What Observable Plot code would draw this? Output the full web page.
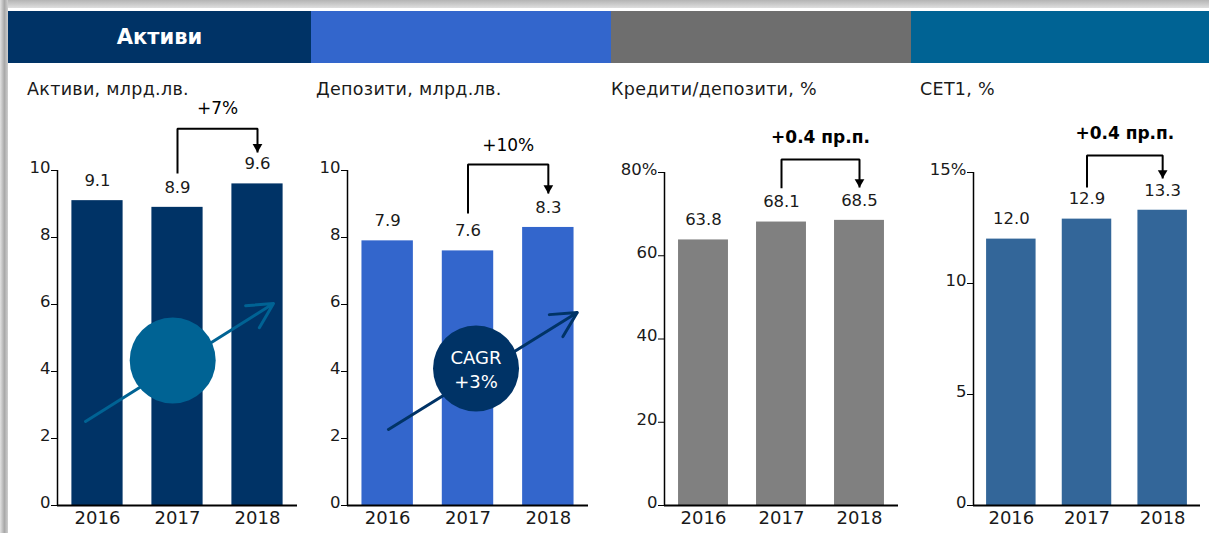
<!DOCTYPE html>
<html><head><meta charset="utf-8">
<script src="https://cdn.jsdelivr.net/npm/d3@7"></script>
<script src="https://cdn.jsdelivr.net/npm/@observablehq/plot@0.6"></script>
<style>
html,body{margin:0;padding:0;background:#fff}
body{width:1209px;height:533px;overflow:hidden;position:relative;font-family:"DejaVu Sans",sans-serif;color:#1a1a1a}
.abs{position:absolute}
#topstrip{left:0;top:0;width:1209px;height:8px;background:linear-gradient(to bottom,#b4b4b4,#dedede)}
#leftstrip{left:0;top:0;width:8px;height:533px;background:linear-gradient(to right,#e2e2e2,#a8a8a8 55%,#cfcfcf)}
.hdr{top:11px;height:52px;display:flex;align-items:center;justify-content:center;color:#fff;font-weight:bold;font-size:21px}
.sub{top:78px;font-size:17.5px;line-height:22px;letter-spacing:0.3px;white-space:nowrap}
.panel{top:95px}
</style></head>
<body>
<div id="topstrip" class="abs"></div>
<div id="leftstrip" class="abs"></div>
<div id="root"></div>
<script>
// ---- data ----
const years = [2016, 2017, 2018];
const assets = [9.1, 8.9, 9.6];
const deposits = [7.9, 7.6, 8.3];
const loansToDeposits = [63.8, 68.1, 68.5];
const cet1 = [12.0, 12.9, 13.3];

const headerLabels = ["Активи", "", "", ""];
const subtitles = ["Активи, млрд.лв.", "Депозити, млрд.лв.", "Кредити/депозити, %", "СЕТ1, %"];
const changeLabels = ["+7%", "+10%", "+0.4 пр.п.", "+0.4 пр.п."];
const cagrLabel = "CAGR\n+3%";

const assetTicks = [0, 2, 4, 6, 8, 10];
const assetTickLabels = ["0", "2", "4", "6", "8", "10"];
const depositTicks = [0, 2, 4, 6, 8, 10];
const depositTickLabels = ["0", "2", "4", "6", "8", "10"];
const ltdTicks = [0, 20, 40, 60, 80];
const ltdTickLabels = ["0", "20", "40", "60", "80%"];
const cet1Ticks = [0, 5, 10, 15];
const cet1TickLabels = ["0", "5", "10", "15%"];

// ---- layout / style config ----
const headerCfg = [
  {left: 8, width: 303, color: "#003366"},
  {left: 311, width: 300, color: "#3366CC"},
  {left: 611, width: 300, color: "#6E6E6E"},
  {left: 911, width: 298, color: "#006394"}
];
const subLeft = [27, 316, 611, 920];

const panels = [
  {values: assets, ticks: assetTicks, tickLabels: assetTickLabels, yMax: 10, color: "#003366",
   left: 7, plotW: 240, marginTop: 75, half: 0.32,
   bracket: {from: 9.91, top: 11.25, tip: 10.54, label: 11.85, bold: false},
   growth: {x1: 2015.85, y1: 2.51, x2: 2018.2, y2: 6.03, cx: 2016.94, cy: 4.33, color: "#006394", text: null}},
  {values: deposits, ticks: depositTicks, tickLabels: depositTickLabels, yMax: 10, color: "#3366CC",
   left: 297, plotW: 241, marginTop: 75, half: 0.32,
   bracket: {from: 8.72, top: 10.18, tip: 9.31, label: 10.75, bold: false},
   growth: {x1: 2016.01, y1: 2.27, x2: 2018.36, y2: 5.76, cx: 2017.1, cy: 4.09, color: "#003366", text: cagrLabel}},
  {values: loansToDeposits, ticks: ltdTicks, tickLabels: ltdTickLabels, yMax: 80, color: "#808080",
   left: 614, plotW: 234, marginTop: 77, half: 0.32,
   bracket: {from: 76.2, top: 83.1, tip: 76.4, label: 88.4, bold: true},
   growth: null},
  {values: cet1, ticks: cet1Ticks, tickLabels: cet1TickLabels, yMax: 15, color: "#336699",
   left: 923, plotW: 227, marginTop: 77, half: 0.327,
   bracket: {from: 14.32, top: 15.77, tip: 14.73, label: 16.76, bold: true},
   growth: null}
];

const root = document.getElementById("root");

headerCfg.forEach((h, i) => {
  const d = document.createElement("div");
  d.className = "abs hdr";
  d.style.left = h.left + "px";
  d.style.width = h.width + "px";
  d.style.background = h.color;
  d.textContent = headerLabels[i];
  root.appendChild(d);
});
subtitles.forEach((s, i) => {
  const d = document.createElement("div");
  d.className = "abs sub";
  d.style.left = subLeft[i] + "px";
  d.textContent = s;
  root.appendChild(d);
});

panels.forEach((p, i) => {
  const data = years.map((y, j) => ({year: y, value: p.values[j]}));
  const b = p.bracket;
  const marginLeft = 50, marginRight = 8;
  const marks = [
    Plot.rectY(data, {x1: d => d.year - p.half, x2: d => d.year + p.half, y: "value", fill: p.color}),
    Plot.text(data, {x: "year", y: "value", text: d => d.value.toFixed(1), dy: -20, fontSize: 16.5, fill: "#1a1a1a"}),
    Plot.ruleX([2015.5], {stroke: "#000", strokeWidth: 1.5}),
    Plot.ruleY([0], {stroke: "#000", strokeWidth: 2}),
    Plot.axisY({ticks: p.ticks, tickFormat: () => "", tickSize: 6, label: null, stroke: "#000"}),
    Plot.axisY({ticks: p.ticks, tickFormat: d => p.tickLabels[p.ticks.indexOf(d)], tickSize: 0, tickPadding: 7, dy: -3, label: null, fontSize: 16.5, color: "#1a1a1a"}),
    Plot.axisX({ticks: years, tickFormat: d => String(d), tickSize: 0, tickPadding: 6, label: null, fontSize: 18, color: "#1a1a1a"}),
    Plot.line([{x: 2017, y: b.from}, {x: 2017, y: b.top}, {x: 2018, y: b.top}, {x: 2018, y: b.tip}],
      {x: "x", y: "y", stroke: "#000", strokeWidth: 2, strokeLinejoin: "miter", strokeLinecap: "butt"}),
    Plot.dot([{x: 2018, y: b.tip}], {x: "x", y: "y", symbol: "triangle", rotate: 180, r: 3.6, dy: -5.5, fill: "#000", stroke: null}),
    Plot.text([{x: 2017.5, y: b.label, t: changeLabels[i]}], {x: "x", y: "y", text: "t", fontSize: 17, fontWeight: b.bold ? "bold" : "normal", fill: "#000"})
  ];
  if (p.growth) {
    const g = p.growth;
    marks.push(Plot.arrow([g], {x1: "x1", y1: "y1", x2: "x2", y2: "y2", stroke: g.color, strokeWidth: 3, headLength: 14, headAngle: 55}));
    marks.push(Plot.dot([g], {x: "cx", y: "cy", r: 43, fill: g.color, stroke: null}));
    if (g.text) marks.push(Plot.text([g], {x: "cx", y: "cy", text: () => g.text, fill: "#fff", fontSize: 18, lineHeight: 1.3}));
  }
  const chart = Plot.plot({
    width: marginLeft + p.plotW + marginRight,
    height: 438,
    marginLeft, marginRight, marginTop: p.marginTop, marginBottom: 28,
    x: {type: "linear", domain: [2015.5, 2018.5]},
    y: {domain: [0, p.yMax]},
    style: {fontFamily: "DejaVu Sans, sans-serif", fontSize: "16px", color: "#1a1a1a", background: "transparent", overflow: "visible"},
    marks
  });
  const wrap = document.createElement("div");
  wrap.className = "abs panel";
  wrap.style.left = p.left + "px";
  wrap.appendChild(chart);
  root.appendChild(wrap);
});
</script>
</body></html>
